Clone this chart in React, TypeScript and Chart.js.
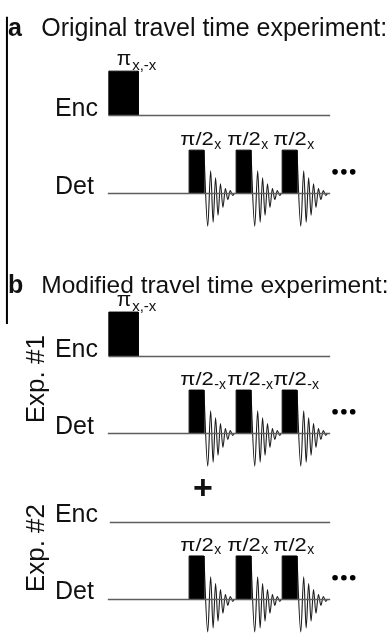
import { useEffect, useRef } from "react";
import { Chart, registerables } from "chart.js";

Chart.register(...registerables);

// ---------------- data (time axis / amplitude in diagram units) ----------------
const panelLetters = ["a", "b"];
const panelTitles = ["Original travel time experiment:", "Modified travel time experiment:"];
const channelNames = ["Enc", "Det"];
const expLabels = ["Exp. #1", "Exp. #2"];

// encoding π pulse: start / end time and amplitude
const encPulseWindow = [107, 137];
const encPulseAmp = 45;
const encPhaseLabel = "x,-x";

// detection π/2 pulses
const detPulseStarts = [189, 237, 284];
const detPulseWidth = 15;
const detPulseAmp = 44;
const detPhasesA = ["x", "x", "x"];
const detPhasesExp1 = ["-x", "-x", "-x"];
const detPhasesExp2 = ["x", "x", "x"];

// free induction decay drawn after each detection pulse (time offset, amplitude)
const fidTimes = [0, 4, 7, 9.5, 12, 14.5, 17, 19.5, 22, 24.5, 27, 29.5, 31];
const fidAmps = [44, -33, 23, -29, 16, -22, 10, -14, 5, -6, 3, -2, 0];

// channel line extents
const encLineStart = 108;
const detLineStart = 106;
const sequenceEnd = 333;

// ---------------- layout (pixels) ----------------
const W = 390;
const H = 635;
const FONT = "'Liberation Sans', Arial, Helvetica, sans-serif";
const INK = "#111";
const LINE_GREY = "#5e5e5e";

type Row = { ch: number; base: number; encPulse?: boolean; phases?: string[] };
const rows: Row[] = [
  { ch: 0, base: 113, encPulse: true },
  { ch: 1, base: 192, phases: detPhasesA },
  { ch: 0, base: 357, encPulse: true },
  { ch: 1, base: 435, phases: detPhasesExp1 },
  { ch: 0, base: 525, encPulse: false },
  { ch: 1, base: 603, phases: detPhasesExp2 },
];
const frame = { x: 3, top: 13, bottom: 324 };
const titleBaselines = [32, 293];
const titleSizes = [25, 24.5];
const letterX = 4;
const titleX = 38;
const chanLabelX = 52;
const expLabelX = 41;
const expLabelCenters = [380, 551];
const plusPos = { x: 203, y: 501 };
const dotOffsets = [5, 14, 23];
const dotRise = 22;

// ---------------- datasets ----------------
function buildDatasets() {
  const ds: any[] = [];
  const line = (pts: { x: number; y: number }[], extra: any = {}) =>
    ds.push({
      data: pts,
      borderColor: LINE_GREY,
      borderWidth: 1.5,
      pointRadius: 0,
      fill: false,
      tension: 0,
      clip: false,
      ...extra,
    });

  // left frame line
  line(
    [
      { x: frame.x, y: frame.top },
      { x: frame.x, y: frame.bottom },
    ],
    { borderColor: "#000", borderWidth: 2 }
  );

  rows.forEach((r) => {
    const b = r.base;
    if (r.ch === 0) {
      const start = r.encPulse ? encPulseWindow[0] : encLineStart;
      line([
        { x: start, y: b },
        { x: sequenceEnd, y: b },
      ]);
      if (r.encPulse) {
        const [s, e] = encPulseWindow;
        line(
          [
            { x: s, y: b },
            { x: s, y: b - encPulseAmp },
            { x: e, y: b - encPulseAmp },
            { x: e, y: b },
          ],
          { borderColor: "#000", borderWidth: 1, backgroundColor: "#000", fill: { value: b } }
        );
      }
    } else {
      line([
        { x: detLineStart, y: b },
        { x: sequenceEnd, y: b },
      ]);
      detPulseStarts.forEach((s) => {
        const e = s + detPulseWidth;
        line(
          [
            { x: s, y: b },
            { x: s, y: b - detPulseAmp },
            { x: e, y: b - detPulseAmp },
            { x: e, y: b },
          ],
          { borderColor: "#000", borderWidth: 1, backgroundColor: "#000", fill: { value: b } }
        );
        line(
          fidTimes.map((t, i) => ({ x: e + t, y: b - fidAmps[i] })),
          { borderColor: "#1a1a1a", borderWidth: 1.1, cubicInterpolationMode: "monotone" }
        );
      });
      // continuation dots
      ds.push({
        data: dotOffsets.map((o) => ({ x: sequenceEnd + o, y: b - dotRise })),
        showLine: false,
        pointRadius: 2.8,
        pointBackgroundColor: "#000",
        pointBorderWidth: 0,
        clip: false,
      });
    }
  });
  return ds;
}

// ---------------- text plugin ----------------
function txt(
  ctx: CanvasRenderingContext2D,
  s: string,
  x: number,
  y: number,
  size: number,
  o: { bold?: boolean; sx?: number; align?: CanvasTextAlign; rot?: number } = {}
) {
  ctx.save();
  ctx.font = `${o.bold ? "bold " : ""}${size}px ${FONT}`;
  ctx.fillStyle = INK;
  ctx.textAlign = o.align || "left";
  ctx.textBaseline = "alphabetic";
  ctx.translate(x, y);
  if (o.rot) ctx.rotate(o.rot);
  if (o.sx) ctx.scale(o.sx, 1);
  ctx.fillText(s, 0, 0);
  const w = ctx.measureText(s).width * (o.sx || 1);
  ctx.restore();
  return w;
}

const textPlugin = {
  id: "diagramText",
  afterDatasetsDraw(chart: any) {
    const ctx: CanvasRenderingContext2D = chart.ctx;
    const X = (v: number) => chart.scales.x.getPixelForValue(v);
    const Y = (v: number) => chart.scales.y.getPixelForValue(v);

    panelLetters.forEach((l, i) => {
      txt(ctx, l, X(letterX), Y(titleBaselines[i]), 25, { bold: true });
      txt(ctx, panelTitles[i], X(titleX), Y(titleBaselines[i]), titleSizes[i]);
    });

    rows.forEach((r) => {
      txt(ctx, channelNames[r.ch], X(chanLabelX), Y(r.base), 25);
      if (r.ch === 0 && r.encPulse) {
        const top = r.base - encPulseAmp;
        const w = txt(ctx, "π", X(encPulseWindow[0] + 8), Y(top - 6), 21);
        txt(ctx, encPhaseLabel, X(encPulseWindow[0] + 8) + w + 1, Y(top - 1), 15);
      }
      if (r.ch === 1 && r.phases) {
        const top = r.base - detPulseAmp;
        detPulseStarts.forEach((s, i) => {
          const x0 = X(s - 9);
          const w = txt(ctx, "π/2", x0, Y(top - 5), 18, { sx: 1.22 });
          txt(ctx, r.phases![i], x0 + w + 0.5, Y(top - 1.5), 14);
        });
      }
    });

    expLabels.forEach((l, i) => {
      txt(ctx, l, X(expLabelX), Y(expLabelCenters[i]), 26, { align: "center", rot: -Math.PI / 2 });
    });

    txt(ctx, "+", X(plusPos.x), Y(plusPos.y), 34, { bold: true, align: "center" });
  },
};

export default function App() {
  const ref = useRef<HTMLCanvasElement>(null);
  useEffect(() => {
    document.body.style.margin = "0";
    const chart = new Chart(ref.current!, {
      type: "line",
      data: { datasets: buildDatasets() },
      options: {
        animation: false,
        responsive: false,
        devicePixelRatio: 1,
        layout: { padding: 0 },
        plugins: { legend: { display: false }, tooltip: { enabled: false } },
        events: [],
        scales: {
          x: { type: "linear", min: 0, max: W, display: false },
          y: { type: "linear", min: 0, max: H, reverse: true, display: false },
        },
      },
      plugins: [textPlugin],
    } as any);
    return () => chart.destroy();
  }, []);
  return (
    <div style={{ position: "absolute", left: 0, top: 0, width: W, height: H, background: "#fff" }}>
      <canvas ref={ref} width={W} height={H} style={{ display: "block" }} />
    </div>
  );
}
